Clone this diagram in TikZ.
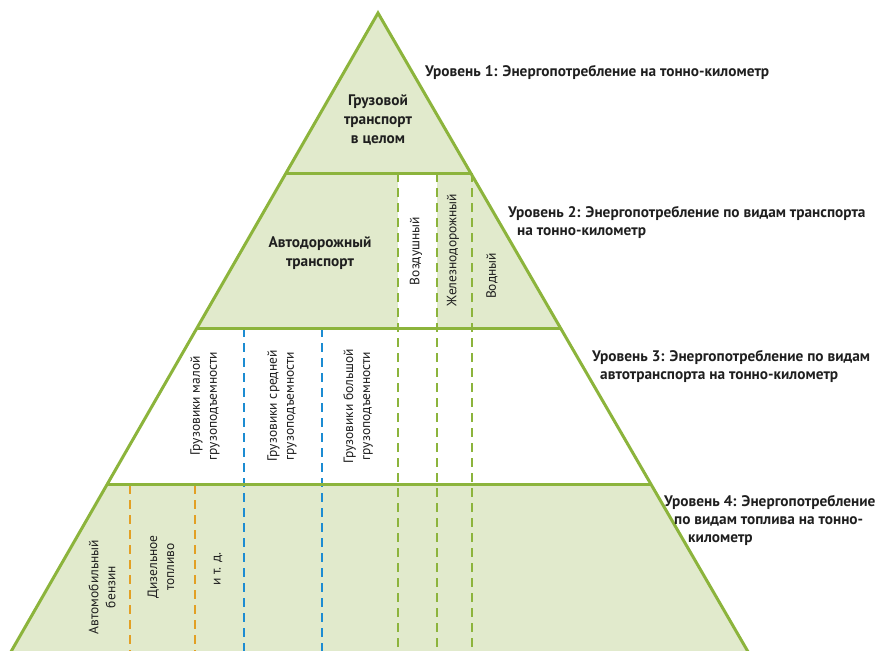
\documentclass[tikz,border=0pt]{standalone}
\usepackage{fontspec}
\usepackage{tikz}
\usetikzlibrary{calc}
\newfontfamily\cond{PT Sans}
\definecolor{grn}{HTML}{8CB43C}
\definecolor{lgrn}{HTML}{E1EACC}
\definecolor{blu}{HTML}{1C8CD2}
\definecolor{org}{HTML}{E2A024}

\begin{document}
\begin{tikzpicture}[x=1pt,y=-1pt,
  hd/.style={align=center,font=\cond\bfseries\fontsize{15.3}{19}\selectfont,text=black!88},
  lab/.style={anchor=west,align=left,inner sep=0pt,font=\cond\bfseries\fontsize{15.3}{18}\selectfont,text=black!88},
  vt/.style={rotate=90,align=center,font=\cond\fontsize{13.5}{17}\selectfont,text=black!88},
  edge/.style={grn,line width=3pt},
  dsh/.style={line width=2.6pt,dash pattern=on 9pt off 6pt}]
\useasboundingbox (0,0) rectangle (877,650);
\clip (0,0) rectangle (877,650);
% pyramid corners and level cuts
\coordinate (A) at (378,13);\coordinate (BL) at (6.2,660);\coordinate (BR) at (752.8,660);
\coordinate (l1) at ($(A)!0.2473!(BL)$);\coordinate (r1) at ($(A)!0.2473!(BR)$);
\coordinate (l2) at ($(A)!0.4869!(BL)$);\coordinate (r2) at ($(A)!0.4869!(BR)$);
\coordinate (l3) at ($(A)!0.7295!(BL)$);\coordinate (r3) at ($(A)!0.7295!(BR)$);
\fill[lgrn] (A)--(BL)--(BR)--cycle;
\fill[white] (l2)--(r2)--(r3)--(l3)--cycle;
\fill[white] (398,173) rectangle (437,328);
% dashed splits
\foreach \x in {398,437,472} \draw[dsh,grn] (\x,173)--(\x,660);
\foreach \x in {244,322} \draw[dsh,blu] (\x,328)--(\x,660);
\foreach \x in {130,195} \draw[dsh,org] (\x,485)--(\x,660);
\draw[edge] (l1)--(r1) (l2)--(r2) (l3)--(r3);
\draw[edge,line join=miter] (BL)--(A)--(BR);
% level 1 and 2
\node[hd] (whole) at (378,120) {Грузовой\\транспорт\\в целом};
\node[hd] (road) at (320,253) {Автодорожный\\транспорт};
\node[vt] (air) at (416,251) {Воздушный};
\node[vt] (rail) at (453,250) {Железнодорожный};
\node[vt] (water) at (492,276) {Водный};
% level 3
\node[vt] (small) at (205,406) {Грузовики малой\\грузоподъемности};
\node[vt] (mid) at (282,406) {Грузовики средней\\грузоподъемности};
\node[vt] (big) at (358,406) {Грузовики большой\\грузоподъемности};
% level 4
\node[vt] (petrol) at (102,587) {Автомобильный\\бензин};
\node[vt] (diesel) at (161,567) {Дизельное\\топливо};
\node[vt] (etc) at (218,569) {и т. д.};
% level captions
\node[lab] (u1) at (425,72) {Уровень 1: Энергопотребление на тонно-километр};
\node[lab] (u2) at (508,222) {Уровень 2: Энергопотребление по видам транспорта\\\hspace*{9pt}на тонно-километр};
\node[lab] (u3) at (592,366) {Уровень 3: Энергопотребление по видам\\\hspace*{8pt}автотранспорта на тонно-километр};
\node[lab] (u4) at (664,520) {Уровень 4: Энергопотребление\\\hspace*{10pt}по видам топлива на тонно-\\\hspace*{24pt}километр};
\end{tikzpicture}
\end{document}
